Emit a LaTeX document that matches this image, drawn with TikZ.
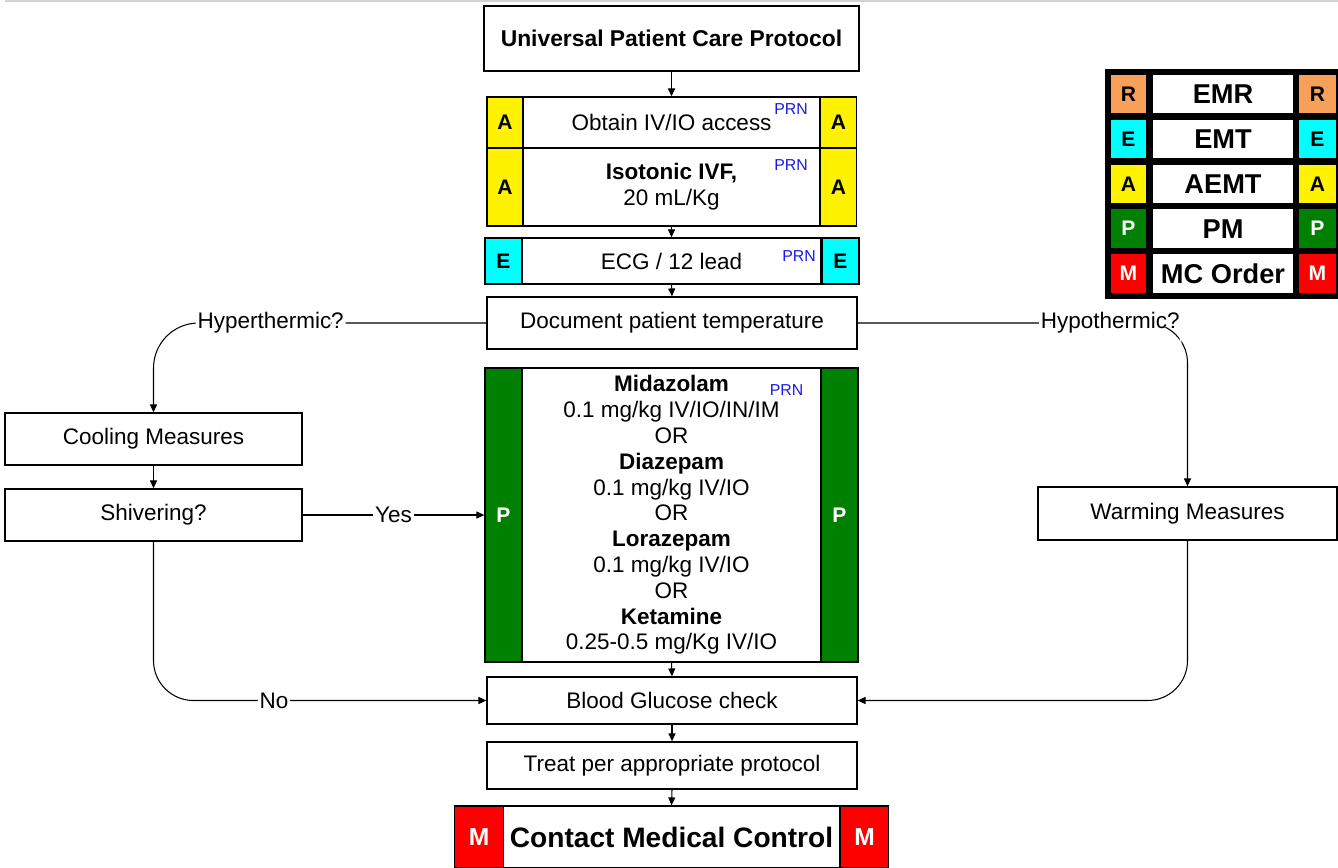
\documentclass[tikz,border=0pt]{standalone}
\usepackage{fontspec}
\setmainfont{Liberation Sans}
\usepackage{xcolor}
\usetikzlibrary{arrows.meta,positioning,calc}

\definecolor{emrorange}{RGB}{247,160,90}
\definecolor{emtcyan}{RGB}{0,255,255}
\definecolor{pmgreen}{RGB}{0,128,0}
\definecolor{prnblue}{RGB}{25,25,235}
\newcommand{\nfont}{\fontsize{12.8}{14.7}\selectfont}

\begin{document}
\begin{tikzpicture}[x=0.02cm, y=-0.02cm,
  box/.style={draw, fill=white, line width=0.8pt, inner sep=0pt, align=center, font=\nfont},
  tag/.style={draw, line width=0.8pt, inner sep=0pt, font=\fontsize{12}{14}\selectfont\bfseries},
  prn/.style={inner sep=0pt, text=prnblue, font=\fontsize{9}{10}\selectfont},
  lab/.style={fill=white, inner sep=1pt, font=\nfont},
  arrow/.style={-{Triangle[length=4.5pt,width=4pt]}, line width=0.6pt}
]
\useasboundingbox (0,0) rectangle (1338,867);
\draw[gray!35, line width=0.8pt] (5,1) -- (1338,1);

\node[box, minimum width=7.5cm, minimum height=1.3cm, font=\fontsize{13}{15}\selectfont\bfseries] (upcp) at (671.5,38.5) {Universal Patient Care Protocol};

\node[box, minimum width=5.94cm, minimum height=1.02cm] (iv) at (671.5,122.5) {Obtain IV/IO access};
\node[tag, fill=yellow, minimum width=0.72cm, minimum height=1.02cm] (ivL) at (505,122.5) {A};
\node[tag, fill=yellow, minimum width=0.72cm, minimum height=1.02cm] (ivR) at (838.5,122.5) {A};
\node[prn] (ivprn) at (791,109) {PRN};

\node[box, minimum width=5.94cm, minimum height=1.56cm] (ivf) at (671.5,187) {\textbf{Isotonic IVF,}\\20 mL/Kg};
\node[tag, fill=yellow, minimum width=0.72cm, minimum height=1.56cm] (ivfL) at (505,187) {A};
\node[tag, fill=yellow, minimum width=0.72cm, minimum height=1.56cm] (ivfR) at (838.5,187) {A};
\node[prn] (ivfprn) at (791,165) {PRN};

\node[box, minimum width=5.98cm, minimum height=0.92cm] (ecg) at (671.5,261) {ECG / 12 lead};
\node[tag, fill=emtcyan, minimum width=0.74cm, minimum height=0.92cm] (ecgL) at (503.5,261) {E};
\node[tag, fill=emtcyan, minimum width=0.74cm, minimum height=0.92cm] (ecgR) at (840.5,261) {E};
\node[prn] (ecgprn) at (799,256) {PRN};

\node[box, minimum width=7.4cm, minimum height=1.04cm] (doc) at (672,323) {Document patient temperature};

\node[box, minimum width=5.98cm, minimum height=5.88cm] (med) at (671.5,515) {\textbf{Midazolam}\\0.1 mg/kg IV/IO/IN/IM\\OR\\\textbf{Diazepam}\\0.1 mg/kg IV/IO\\OR\\\textbf{Lorazepam}\\0.1 mg/kg IV/IO\\OR\\\textbf{Ketamine}\\0.25-0.5 mg/Kg IV/IO};
\node[tag, fill=pmgreen, text=white, minimum width=0.74cm, minimum height=5.88cm] (medL) at (503.5,515) {P};
\node[tag, fill=pmgreen, text=white, minimum width=0.74cm, minimum height=5.88cm] (medR) at (839.5,515) {P};
\node[prn] (medprn) at (786.5,390.5) {PRN};

\node[box, minimum width=7.4cm, minimum height=0.94cm] (bg) at (672,700.5) {Blood Glucose check};
\node[box, minimum width=7.4cm, minimum height=0.94cm] (treat) at (672,765.5) {Treat per appropriate protocol};

\node[box, minimum width=6.74cm, minimum height=1.24cm, font=\fontsize{16}{18}\selectfont\bfseries] (mc) at (671.5,837) {Contact Medical Control};
\node[tag, fill=red, text=white, minimum width=0.97cm, minimum height=1.24cm, font=\fontsize{14}{16}\selectfont\bfseries] (mcL) at (479,837) {M};
\node[tag, fill=red, text=white, minimum width=0.97cm, minimum height=1.24cm, font=\fontsize{14}{16}\selectfont\bfseries] (mcR) at (864.5,837) {M};

\node[box, minimum width=5.94cm, minimum height=1.04cm] (cool) at (153.5,439) {Cooling Measures};
\node[box, minimum width=5.94cm, minimum height=1.04cm] (shiv) at (153.5,515) {Shivering?};
\node[box, minimum width=5.98cm, minimum height=1.06cm] (warm) at (1187.5,513.5) {Warming Measures};

\draw[arrow] (upcp.south) -- (iv.north);
\draw[arrow] (ivf.south) -- (ecg.north);
\draw[arrow] (ecg.south) -- (doc.north);
\draw[arrow] (med.south) -- (bg.north);
\draw[arrow] (bg.south) -- (treat.north);
\draw[arrow] (treat.south) -- (mc.north);
\draw[arrow] (cool.south) -- (shiv.north);
\draw[arrow, rounded corners=0.9cm] (doc.west) -- node[lab, pos=0.648] {Hyperthermic?} (cool.north |- doc.west) -- (cool.north);
\draw[arrow, rounded corners=0.8cm] (doc.east) -- node[lab, pos=0.766] {Hypothermic?} (warm.north |- doc.east) -- (warm.north);
\draw[arrow] (shiv.east) -- node[lab] {Yes} (medL.west);
\draw[arrow, rounded corners=0.8cm] (shiv.south) -- (shiv.south |- bg.west) -- node[lab, pos=0.362] {No} (bg.west);
\draw[arrow, rounded corners=0.8cm] (warm.south) -- (warm.south |- bg.east) -- (bg.east);

\fill (1105,69) rectangle (1345,299);
\foreach \i/\ab/\lvl/\col/\tc in {0/R/EMR/emrorange/black,1/E/EMT/emtcyan/black,2/A/AEMT/yellow/black,3/P/PM/pmgreen/white,4/M/MC Order/red/white} {
  \node[tag, fill=\col, text=\tc, minimum width=0.74cm, minimum height=0.8cm] (legL\i) at (1128.5,94+44.9*\i) {\ab};
  \node[box, minimum width=2.84cm, minimum height=0.8cm, font=\fontsize{15.5}{17}\selectfont\bfseries] (legM\i) at (1223,94+44.9*\i) {\lvl};
  \node[tag, fill=\col, text=\tc, minimum width=0.78cm, minimum height=0.8cm] (legR\i) at (1317.5,94+44.9*\i) {\ab};
}
\end{tikzpicture}
\end{document}
